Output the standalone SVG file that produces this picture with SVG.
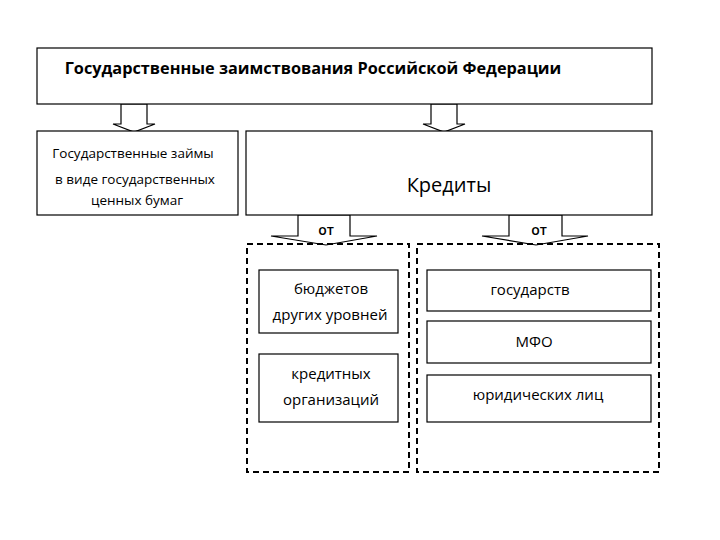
<svg xmlns="http://www.w3.org/2000/svg" width="720" height="540" viewBox="0 0 720 540">
<style>
.box{fill:#fff;stroke:#000;stroke-width:1.2}
.dash{fill:none;stroke:#000;stroke-width:2;stroke-dasharray:6 4}
.arr{fill:#fff;stroke:#000;stroke-width:1.2}
text{font-family:"Open Sans","Liberation Sans",sans-serif;fill:#000;text-anchor:middle}
.t13{font-size:13.5px}
.t15{font-size:15px}
</style>
<rect width="720" height="540" fill="#fff"/>
<g id="connectors">
<path class="arr" d="M121 104 V124 H113 L134 132 L155 124 H147 V104 Z"/>
<path class="arr" d="M431 104 V124 H423 L444 132 L465 124 H457 V104 Z"/>
<path class="arr" d="M298 215 V236 H271 L326 245 L377 236 H350 V215 Z"/>
<path class="arr" d="M509 215 V236 H482 L536 245 L588 236 H562 V215 Z"/>
</g>
<g id="top">
<rect class="box" x="37" y="48" width="615" height="56"/>
<text x="313" y="74" font-size="16.3" font-weight="bold">Государственные заимствования Российской Федерации</text>
</g>
<g id="loans">
<rect class="box" x="37" y="131" width="201" height="84"/>
<text class="t13" x="133" y="158">Государственные займы</text>
<text class="t13" x="135" y="184">в виде государственных</text>
<text class="t13" x="137" y="205">ценных бумаг</text>
</g>
<g id="credits">
<rect class="box" x="246" y="131" width="406" height="84"/>
<text x="449" y="192" font-size="20">Кредиты</text>
</g>
<g id="ot-left"><text x="326" y="235" font-size="14" font-weight="600">от</text></g>
<g id="ot-right"><text x="539" y="235" font-size="14" font-weight="600">от</text></g>
<g id="group-left">
<rect class="dash" x="247" y="244" width="162" height="228"/>
</g>
<g id="group-right">
<rect class="dash" x="417" y="244" width="242" height="228"/>
</g>
<g id="budgets">
<rect class="box" x="259" y="270" width="139" height="63"/>
<text class="t15" x="331" y="294">бюджетов</text>
<text class="t15" x="330" y="320">других уровней</text>
</g>
<g id="creditorgs">
<rect class="box" x="259" y="354" width="139" height="68"/>
<text class="t15" x="331" y="379">кредитных</text>
<text class="t15" x="331" y="405">организаций</text>
</g>
<g id="states">
<rect class="box" x="427" y="270" width="224" height="41"/>
<text class="t15" x="530" y="295">государств</text>
</g>
<g id="mfo">
<rect class="box" x="427" y="321" width="224" height="42"/>
<text class="t15" x="534" y="347">МФО</text>
</g>
<g id="legal">
<rect class="box" x="427" y="375" width="224" height="47"/>
<text class="t15" x="538" y="400">юридических лиц</text>
</g>
</svg>
